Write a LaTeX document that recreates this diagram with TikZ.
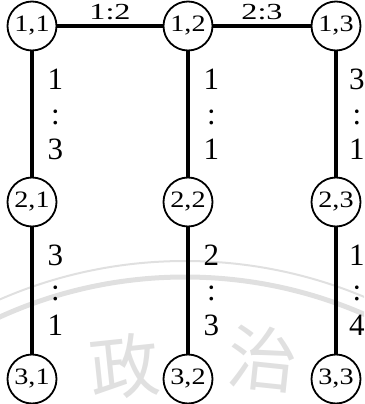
\documentclass[tikz,border=0pt]{standalone}
\usepackage{fontspec}
\setmainfont{Liberation Serif}
\newfontfamily\nodefont[FakeStretch=1.2]{Liberation Serif}
\newfontfamily\hlabfont[FakeStretch=1.4]{Liberation Serif}
\newfontfamily\vlabfont{Liberation Serif}
\newfontfamily\cjk{Noto Sans CJK SC}
\begin{document}
\begin{tikzpicture}[x=1pt,y=-1pt,
  st/.style={circle, draw, line width=1.8pt, minimum size=49pt, inner sep=0pt, font=\nodefont\fontsize{23.5}{27}\selectfont},
  edge/.style={line width=3.4pt},
  hlab/.style={above=4pt, inner sep=0pt, font=\hlabfont\fontsize{23}{27}\selectfont},
  vlabbase/.style={inner sep=0pt, align=center, font=\vlabfont\fontsize{31}{35}\selectfont},
  vlab/.style={vlabbase, right=14pt},
  vlabedge/.style={vlabbase, right=11.5pt},
  wm/.style={color=black!12}
]
\useasboundingbox (0,0) rectangle (364,404);
\begin{scope}
  \clip (0,0) rectangle (364,404);
  \draw[wm, line width=2pt] (185,725) circle[radius=464];
  \draw[wm, line width=5pt] (185,725) circle[radius=448];
  \node[wm, font=\cjk\fontsize{70}{70}\selectfont, rotate=6] (w1) at (125,366) {政};
  \node[wm, font=\cjk\fontsize{70}{70}\selectfont, rotate=-6] (w2) at (263,359) {治};
\end{scope}
\node[st] (n11) at (32,26) {1,1};
\node[st] (n12) at (188,26) {1,2};
\node[st] (n13) at (336,26) {1,3};
\node[st] (n21) at (32,202) {2,1};
\node[st] (n22) at (188,202) {2,2};
\node[st] (n23) at (336,202) {2,3};
\node[st] (n31) at (32,379) {3,1};
\node[st] (n32) at (188,379) {3,2};
\node[st] (n33) at (336,379) {3,3};
\draw[edge] (n11) -- node[hlab] (l1) {1:2} (n12);
\draw[edge] (n12) -- node[hlab] (l2) {2:3} (n13);
\draw[edge] (n11) -- node[vlab] (l3) {1\\:\\3} (n21);
\draw[edge] (n21) -- node[vlab] (l4) {3\\:\\1} (n31);
\draw[edge] (n12) -- node[vlab] (l5) {1\\:\\1} (n22);
\draw[edge] (n22) -- node[vlab] (l6) {2\\:\\3} (n32);
\draw[edge] (n13) -- node[vlabedge] (l7) {3\\:\\1} (n23);
\draw[edge] (n23) -- node[vlabedge] (l8) {1\\:\\4} (n33);
\end{tikzpicture}
\end{document}
